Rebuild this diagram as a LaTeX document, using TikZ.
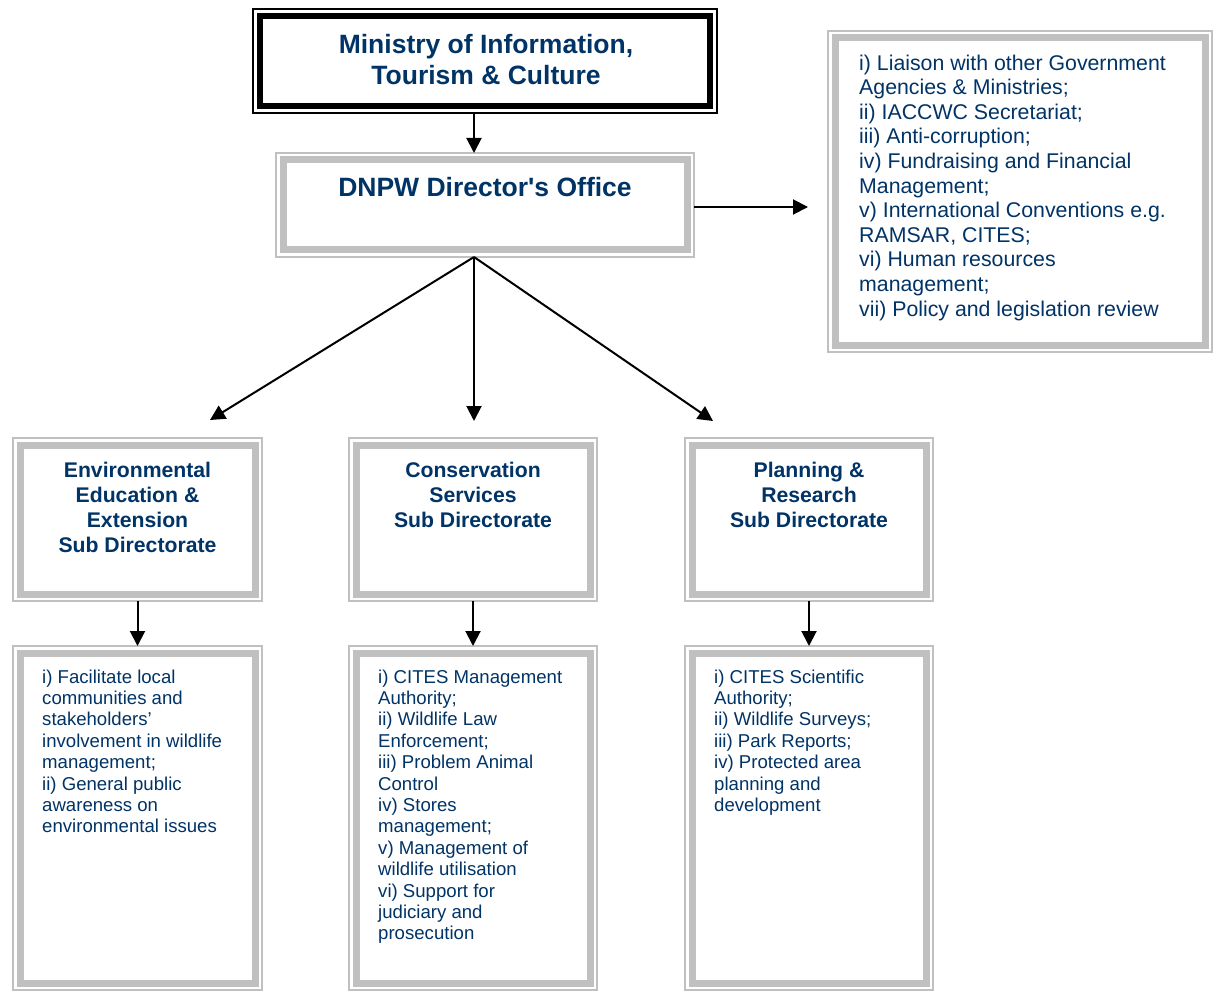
\documentclass[tikz,border=0pt]{standalone}
\usepackage{fontspec}
\setmainfont{Liberation Sans}
\newfontfamily\nomapfont{Liberation Sans}[Ligatures=TeXOff]
\usetikzlibrary{arrows.meta}
\definecolor{navy}{RGB}{0,51,102}
\definecolor{bordergray}{RGB}{192,192,192}
\begin{document}
\begin{tikzpicture}[x=1pt,y=-1pt,
  frame/.style={draw=bordergray, line width=1.8pt, outer sep=0pt, inner sep=0pt, rectangle},
  blackframe/.style={frame, draw=black},
  thickgray/.style={draw=bordergray, line width=7pt},
  thickblack/.style={draw=black, line width=6.5pt},
  arr/.style={draw=black, line width=2pt, -{Triangle[length=15pt,width=15pt]}},
  toptitle/.style={text=navy, font=\fontsize{26.5}{31}\selectfont\bfseries, align=center, inner sep=0pt},
  subtitle/.style={text=navy, font=\fontsize{21.2}{25}\selectfont\bfseries, align=center, inner sep=0pt},
  listtext/.style={text=navy, font=\fontsize{21.3}{24.6}\selectfont, align=left, inner sep=0pt, anchor=north west},
  smalltext/.style={text=navy, font=\fontsize{18.6}{21.4}\selectfont, align=left, inner sep=0pt, anchor=north west}
]
\useasboundingbox (0,0) rectangle (1217,992);
\fill[white] (0,0) rectangle (1217,992);

% Ministry box
\node[blackframe, minimum width=464pt, minimum height=104pt] (ministry) at (485,61) {};
\draw[thickblack] ([shift={(7,7)}]ministry.north west) rectangle ([shift={(-7,-7)}]ministry.south east);
\node[toptitle, anchor=north] (ministrytext) at (486,34) {Ministry of Information,\\Tourism \& Culture};

% DNPW box
\node[frame, minimum width=418pt, minimum height=104pt] (dnpw) at (485,205) {};
\draw[thickgray] ([shift={(7,7)}]dnpw.north west) rectangle ([shift={(-7,-7)}]dnpw.south east);
\node[toptitle, anchor=base] (dnpwtext) at (485,197) {\nomapfont\bfseries DNPW Director's Office};

% Right box
\node[frame, minimum width=384pt, minimum height=321pt] (right) at (1020,191.5) {};
\draw[thickgray] ([shift={(7,7)}]right.north west) rectangle ([shift={(-7,-7)}]right.south east);
\node[listtext] (righttext) at (859,54.5) {i) Liaison with other Government\\Agencies \& Ministries;\\ii) IACCWC Secretariat;\\iii) Anti-corruption;\\iv) Fundraising and Financial\\Management;\\v) International Conventions e.g.\\RAMSAR, CITES;\\vi) Human resources\\management;\\vii) Policy and legislation review};

% Sub directorate boxes
\node[frame, minimum width=249pt, minimum height=163pt] (sub1) at (137.5,519.5) {};
\draw[thickgray] ([shift={(7,7)}]sub1.north west) rectangle ([shift={(-7,-7)}]sub1.south east);
\node[subtitle, anchor=north] (sub1text) at (137.5,461.5) {Environmental\\Education \&\\Extension\\Sub Directorate};

\node[frame, minimum width=248pt, minimum height=163pt] (sub2) at (473,519.5) {};
\draw[thickgray] ([shift={(7,7)}]sub2.north west) rectangle ([shift={(-7,-7)}]sub2.south east);
\node[subtitle, anchor=north] (sub2text) at (473,461.5) {Conservation\\Services\\Sub Directorate};

\node[frame, minimum width=248pt, minimum height=163pt] (sub3) at (809,519.5) {};
\draw[thickgray] ([shift={(7,7)}]sub3.north west) rectangle ([shift={(-7,-7)}]sub3.south east);
\node[subtitle, anchor=north] (sub3text) at (809,461.5) {Planning \&\\Research\\Sub Directorate};

% Bottom boxes
\node[frame, minimum width=249pt, minimum height=344pt] (bot1) at (137.5,818) {};
\draw[thickgray] ([shift={(7,7)}]bot1.north west) rectangle ([shift={(-7,-7)}]bot1.south east);
\node[smalltext] (bot1text) at (42,669.4) {i) Facilitate local\\communities and\\stakeholders’\\involvement in wildlife\\management;\\ii) General public\\awareness on\\environmental issues};

\node[frame, minimum width=248pt, minimum height=344pt] (bot2) at (473,818) {};
\draw[thickgray] ([shift={(7,7)}]bot2.north west) rectangle ([shift={(-7,-7)}]bot2.south east);
\node[smalltext] (bot2text) at (378,669.4) {i) CITES Management\\Authority;\\ii) Wildlife Law\\Enforcement;\\iii) Problem Animal\\Control\\iv) Stores\\management;\\v) Management of\\wildlife utilisation\\vi) Support for\\judiciary and\\prosecution};

\node[frame, minimum width=248pt, minimum height=344pt] (bot3) at (809,818) {};
\draw[thickgray] ([shift={(7,7)}]bot3.north west) rectangle ([shift={(-7,-7)}]bot3.south east);
\node[smalltext] (bot3text) at (714,669.4) {i) CITES Scientific\\Authority;\\ii) Wildlife Surveys;\\iii) Park Reports;\\iv) Protected area\\planning and\\development};

% Connectors
\coordinate (ax) at (474,0);
\coordinate (tipL) at (210,420);
\coordinate (tipM) at (474,421);
\coordinate (tipR) at (713,421);
\coordinate (tipE) at (808,207);
\draw[arr] (ministry.south -| ax) -- (dnpw.north -| ax);
\draw[arr] (dnpw.south -| ax) -- (tipL);
\draw[arr] (dnpw.south -| ax) -- (tipM);
\draw[arr] (dnpw.south -| ax) -- (tipR);
\draw[arr] (dnpw.east |- tipE) -- (tipE);
\draw[arr] (sub1.south) -- (bot1.north);
\draw[arr] (sub2.south) -- (bot2.north);
\draw[arr] (sub3.south) -- (bot3.north);
\end{tikzpicture}
\end{document}
